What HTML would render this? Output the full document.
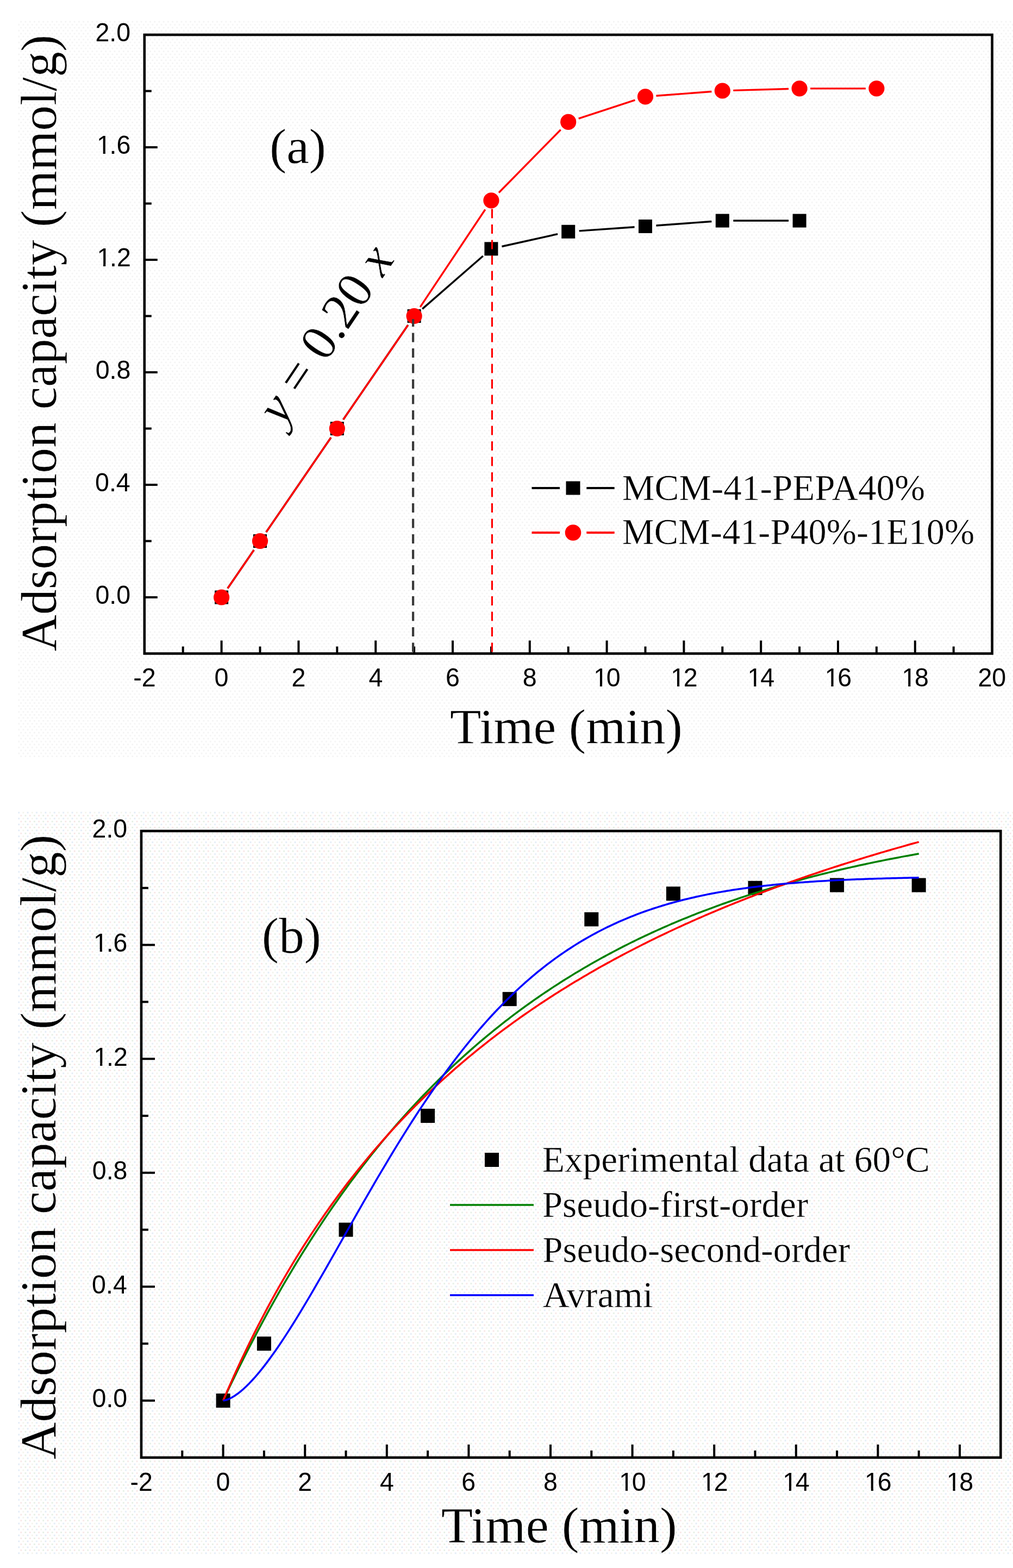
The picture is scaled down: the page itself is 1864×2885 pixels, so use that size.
<!DOCTYPE html>
<html><head><meta charset="utf-8"><title>Adsorption kinetics</title>
<style>html,body{margin:0;padding:0;background:#fff;}svg{display:block;}</style></head>
<body><svg width="1864" height="2885" viewBox="0 0 1864 2885">
<rect width="1864" height="2885" fill="#fff"/>
<defs><pattern id="dotsA" x="0" y="0" width="8.2" height="10.9" patternUnits="userSpaceOnUse"><rect x="0.5" y="0.5" width="2.8" height="2.8" fill="#f3f3f3"/><rect x="4.6" y="5.95" width="2.8" height="2.8" fill="#f3f3f3"/></pattern><pattern id="dotsB" x="0" y="0" width="16.4" height="10.9" patternUnits="userSpaceOnUse"><rect x="0.5" y="0.5" width="2.8" height="2.8" fill="#dfe9f5"/><rect x="4.6" y="5.95" width="2.8" height="2.8" fill="#f7e4e4"/><rect x="8.7" y="0.5" width="2.8" height="2.8" fill="#f2f2ea"/><rect x="12.8" y="5.95" width="2.8" height="2.8" fill="#e3eee3"/></pattern></defs>
<rect x="33" y="38" width="1831" height="1355" fill="url(#dotsA)"/>
<rect x="33" y="1493" width="1831" height="1368" fill="url(#dotsB)"/>
<rect x="265.80" y="64.00" width="1559.80" height="1138.50" fill="none" stroke="#000" stroke-width="4.6"/>
<line x1="265.80" y1="1099.00" x2="289.80" y2="1099.00" stroke="#000" stroke-width="4" />
<line x1="265.80" y1="995.50" x2="278.80" y2="995.50" stroke="#000" stroke-width="4" />
<line x1="265.80" y1="892.00" x2="289.80" y2="892.00" stroke="#000" stroke-width="4" />
<line x1="265.80" y1="788.50" x2="278.80" y2="788.50" stroke="#000" stroke-width="4" />
<line x1="265.80" y1="685.00" x2="289.80" y2="685.00" stroke="#000" stroke-width="4" />
<line x1="265.80" y1="581.50" x2="278.80" y2="581.50" stroke="#000" stroke-width="4" />
<line x1="265.80" y1="478.00" x2="289.80" y2="478.00" stroke="#000" stroke-width="4" />
<line x1="265.80" y1="374.50" x2="278.80" y2="374.50" stroke="#000" stroke-width="4" />
<line x1="265.80" y1="271.00" x2="289.80" y2="271.00" stroke="#000" stroke-width="4" />
<line x1="265.80" y1="167.50" x2="278.80" y2="167.50" stroke="#000" stroke-width="4" />
<line x1="336.70" y1="1202.50" x2="336.70" y2="1189.50" stroke="#000" stroke-width="4" />
<line x1="407.60" y1="1202.50" x2="407.60" y2="1178.50" stroke="#000" stroke-width="4" />
<line x1="478.50" y1="1202.50" x2="478.50" y2="1189.50" stroke="#000" stroke-width="4" />
<line x1="549.40" y1="1202.50" x2="549.40" y2="1178.50" stroke="#000" stroke-width="4" />
<line x1="620.30" y1="1202.50" x2="620.30" y2="1189.50" stroke="#000" stroke-width="4" />
<line x1="691.20" y1="1202.50" x2="691.20" y2="1178.50" stroke="#000" stroke-width="4" />
<line x1="762.10" y1="1202.50" x2="762.10" y2="1189.50" stroke="#000" stroke-width="4" />
<line x1="833.00" y1="1202.50" x2="833.00" y2="1178.50" stroke="#000" stroke-width="4" />
<line x1="903.90" y1="1202.50" x2="903.90" y2="1189.50" stroke="#000" stroke-width="4" />
<line x1="974.80" y1="1202.50" x2="974.80" y2="1178.50" stroke="#000" stroke-width="4" />
<line x1="1045.70" y1="1202.50" x2="1045.70" y2="1189.50" stroke="#000" stroke-width="4" />
<line x1="1116.60" y1="1202.50" x2="1116.60" y2="1178.50" stroke="#000" stroke-width="4" />
<line x1="1187.50" y1="1202.50" x2="1187.50" y2="1189.50" stroke="#000" stroke-width="4" />
<line x1="1258.40" y1="1202.50" x2="1258.40" y2="1178.50" stroke="#000" stroke-width="4" />
<line x1="1329.30" y1="1202.50" x2="1329.30" y2="1189.50" stroke="#000" stroke-width="4" />
<line x1="1400.20" y1="1202.50" x2="1400.20" y2="1178.50" stroke="#000" stroke-width="4" />
<line x1="1471.10" y1="1202.50" x2="1471.10" y2="1189.50" stroke="#000" stroke-width="4" />
<line x1="1542.00" y1="1202.50" x2="1542.00" y2="1178.50" stroke="#000" stroke-width="4" />
<line x1="1612.90" y1="1202.50" x2="1612.90" y2="1189.50" stroke="#000" stroke-width="4" />
<line x1="1683.80" y1="1202.50" x2="1683.80" y2="1178.50" stroke="#000" stroke-width="4" />
<line x1="1754.70" y1="1202.50" x2="1754.70" y2="1189.50" stroke="#000" stroke-width="4" />
<g transform="translate(175.47,1111.40) scale(0.9750,1)"><text x="0.00 26.58 39.86" font-family="&quot;Liberation Sans&quot;, sans-serif" font-size="47.80" fill="#000">0.0</text></g>
<g transform="translate(175.00,904.40) scale(0.9750,1)"><text x="0.00 26.58 39.86" font-family="&quot;Liberation Sans&quot;, sans-serif" font-size="47.80" fill="#000">0.4</text></g>
<g transform="translate(175.70,697.40) scale(0.9750,1)"><text x="0.00 26.58 39.86" font-family="&quot;Liberation Sans&quot;, sans-serif" font-size="47.80" fill="#000">0.8</text></g>
<g transform="translate(176.05,490.40) scale(0.9750,1)"><text x="2.39 26.58 39.86" font-family="&quot;Liberation Sans&quot;, sans-serif" font-size="47.80" fill="#000">1.2</text><rect x="4.72" y="-4.33" width="9.66" height="5.33" fill="#fdfdfd"/><rect x="18.66" y="-4.33" width="9.41" height="5.33" fill="#fdfdfd"/></g>
<g transform="translate(175.70,283.40) scale(0.9750,1)"><text x="2.39 26.58 39.86" font-family="&quot;Liberation Sans&quot;, sans-serif" font-size="47.80" fill="#000">1.6</text><rect x="4.72" y="-4.33" width="9.66" height="5.33" fill="#fdfdfd"/><rect x="18.66" y="-4.33" width="9.41" height="5.33" fill="#fdfdfd"/></g>
<g transform="translate(175.47,76.40) scale(0.9750,1)"><text x="0.00 26.58 39.86" font-family="&quot;Liberation Sans&quot;, sans-serif" font-size="47.80" fill="#000">2.0</text></g>
<g transform="translate(245.24,1263.30) scale(0.9750,1)"><text x="0.00 15.92" font-family="&quot;Liberation Sans&quot;, sans-serif" font-size="47.80" fill="#000">-2</text></g>
<g transform="translate(394.61,1263.30) scale(0.9750,1)"><text x="0.00" font-family="&quot;Liberation Sans&quot;, sans-serif" font-size="47.80" fill="#000">0</text></g>
<g transform="translate(536.47,1263.30) scale(0.9750,1)"><text x="0.00" font-family="&quot;Liberation Sans&quot;, sans-serif" font-size="47.80" fill="#000">2</text></g>
<g transform="translate(678.38,1263.30) scale(0.9750,1)"><text x="0.00" font-family="&quot;Liberation Sans&quot;, sans-serif" font-size="47.80" fill="#000">4</text></g>
<g transform="translate(819.89,1263.30) scale(0.9750,1)"><text x="0.00" font-family="&quot;Liberation Sans&quot;, sans-serif" font-size="47.80" fill="#000">6</text></g>
<g transform="translate(961.87,1263.30) scale(0.9750,1)"><text x="0.00" font-family="&quot;Liberation Sans&quot;, sans-serif" font-size="47.80" fill="#000">8</text></g>
<g transform="translate(1089.86,1263.30) scale(0.9750,1)"><text x="2.39 26.58" font-family="&quot;Liberation Sans&quot;, sans-serif" font-size="47.80" fill="#000">10</text><rect x="4.72" y="-4.33" width="9.66" height="5.33" fill="#fdfdfd"/><rect x="18.66" y="-4.33" width="9.41" height="5.33" fill="#fdfdfd"/></g>
<g transform="translate(1231.95,1263.30) scale(0.9750,1)"><text x="2.39 26.58" font-family="&quot;Liberation Sans&quot;, sans-serif" font-size="47.80" fill="#000">12</text><rect x="4.72" y="-4.33" width="9.66" height="5.33" fill="#fdfdfd"/><rect x="18.66" y="-4.33" width="9.41" height="5.33" fill="#fdfdfd"/></g>
<g transform="translate(1373.23,1263.30) scale(0.9750,1)"><text x="2.39 26.58" font-family="&quot;Liberation Sans&quot;, sans-serif" font-size="47.80" fill="#000">14</text><rect x="4.72" y="-4.33" width="9.66" height="5.33" fill="#fdfdfd"/><rect x="18.66" y="-4.33" width="9.41" height="5.33" fill="#fdfdfd"/></g>
<g transform="translate(1515.38,1263.30) scale(0.9750,1)"><text x="2.39 26.58" font-family="&quot;Liberation Sans&quot;, sans-serif" font-size="47.80" fill="#000">16</text><rect x="4.72" y="-4.33" width="9.66" height="5.33" fill="#fdfdfd"/><rect x="18.66" y="-4.33" width="9.41" height="5.33" fill="#fdfdfd"/></g>
<g transform="translate(1657.18,1263.30) scale(0.9750,1)"><text x="2.39 26.58" font-family="&quot;Liberation Sans&quot;, sans-serif" font-size="47.80" fill="#000">18</text><rect x="4.72" y="-4.33" width="9.66" height="5.33" fill="#fdfdfd"/><rect x="18.66" y="-4.33" width="9.41" height="5.33" fill="#fdfdfd"/></g>
<g transform="translate(1799.44,1263.30) scale(0.9750,1)"><text x="0.00 26.58" font-family="&quot;Liberation Sans&quot;, sans-serif" font-size="47.80" fill="#000">20</text></g>
<text transform="translate(827.95,1368.46) scale(1.0342,1)" font-family="&quot;Liberation Serif&quot;, serif" font-size="91.02" text-anchor="start" fill="#000" stroke="#fdfdfd" stroke-width="0.5">Time (min)</text>
<text transform="translate(103.15,1198.84) rotate(-90) scale(0.9955,1)" font-family="&quot;Liberation Serif&quot;, serif" font-size="94.18" text-anchor="start" fill="#000" stroke="#fdfdfd" stroke-width="0.5">Adsorption capacity (mmol/g)</text>
<text transform="translate(496.02,300.19) scale(1.0203,1)" font-family="&quot;Liberation Serif&quot;, serif" font-size="91.79" text-anchor="start" fill="#000" stroke="#fdfdfd" stroke-width="0.5">(a)</text>
<line x1="418.90" y1="1082.50" x2="467.20" y2="1012.00" stroke="#000" stroke-width="3.4" />
<line x1="489.80" y1="979.00" x2="609.00" y2="805.00" stroke="#000" stroke-width="3.4" />
<line x1="631.60" y1="772.00" x2="750.80" y2="598.00" stroke="#000" stroke-width="3.4" />
<line x1="777.17" y1="568.35" x2="888.83" y2="470.96" stroke="#000" stroke-width="3.4" />
<line x1="923.42" y1="453.47" x2="1026.18" y2="430.60" stroke="#000" stroke-width="3.4" />
<line x1="1065.65" y1="424.87" x2="1167.55" y2="417.80" stroke="#000" stroke-width="3.4" />
<line x1="1207.45" y1="414.96" x2="1309.35" y2="407.52" stroke="#000" stroke-width="3.4" />
<line x1="1349.30" y1="406.07" x2="1451.10" y2="406.07" stroke="#000" stroke-width="3.4" />
<line x1="418.90" y1="1082.50" x2="467.20" y2="1012.00" stroke="#ff0000" stroke-width="3.4" />
<line x1="489.80" y1="979.00" x2="609.00" y2="805.00" stroke="#ff0000" stroke-width="3.4" />
<line x1="631.60" y1="772.00" x2="750.80" y2="598.00" stroke="#ff0000" stroke-width="3.4" />
<line x1="773.19" y1="564.86" x2="892.81" y2="385.45" stroke="#ff0000" stroke-width="3.4" />
<line x1="917.91" y1="354.54" x2="1031.69" y2="238.69" stroke="#ff0000" stroke-width="3.4" />
<line x1="1064.70" y1="218.18" x2="1168.50" y2="184.09" stroke="#ff0000" stroke-width="3.4" />
<line x1="1207.44" y1="176.32" x2="1309.36" y2="168.51" stroke="#ff0000" stroke-width="3.4" />
<line x1="1349.29" y1="166.40" x2="1451.11" y2="163.43" stroke="#ff0000" stroke-width="3.4" />
<line x1="1491.10" y1="162.84" x2="1592.90" y2="162.84" stroke="#ff0000" stroke-width="3.4" />
<rect x="395.10" y="1086.50" width="25" height="25" fill="#000"/>
<rect x="466.00" y="983.00" width="25" height="25" fill="#000"/>
<rect x="607.80" y="776.00" width="25" height="25" fill="#000"/>
<rect x="749.60" y="569.00" width="25" height="25" fill="#000"/>
<rect x="891.40" y="445.32" width="25" height="25" fill="#000"/>
<rect x="1033.20" y="413.75" width="25" height="25" fill="#000"/>
<rect x="1175.00" y="403.92" width="25" height="25" fill="#000"/>
<rect x="1316.80" y="393.57" width="25" height="25" fill="#000"/>
<rect x="1458.60" y="393.57" width="25" height="25" fill="#000"/>
<line x1="905.40" y1="368.81" x2="905.40" y2="1201.00" stroke="#ff0000" stroke-width="3.2" stroke-dasharray="17.0 11.5" stroke-dashoffset="12.71"/>
<circle cx="407.60" cy="1099.00" r="14.6" fill="#ff0000"/>
<circle cx="478.50" cy="995.50" r="14.6" fill="#ff0000"/>
<circle cx="620.30" cy="788.50" r="14.6" fill="#ff0000"/>
<circle cx="762.10" cy="581.50" r="14.6" fill="#ff0000"/>
<circle cx="903.90" cy="368.81" r="14.6" fill="#ff0000"/>
<circle cx="1045.70" cy="224.43" r="14.6" fill="#ff0000"/>
<circle cx="1187.50" cy="177.85" r="14.6" fill="#ff0000"/>
<circle cx="1329.30" cy="166.98" r="14.6" fill="#ff0000"/>
<circle cx="1471.10" cy="162.84" r="14.6" fill="#ff0000"/>
<circle cx="1612.90" cy="162.84" r="14.6" fill="#ff0000"/>
<line x1="760.10" y1="587.00" x2="760.10" y2="1201.00" stroke="#3a3a3a" stroke-width="4.2" stroke-dasharray="17.0 11.5" stroke-dashoffset="2.90"/>
<text transform="translate(520.49,785.52) rotate(-56.1)" font-family="&quot;Liberation Serif&quot;, serif" font-size="94.0" fill="#000" stroke="#fdfdfd" stroke-width="0.5" xml:space="preserve"><tspan font-style="italic">y</tspan> = 0.20 <tspan font-style="italic">x</tspan></text>
<line x1="978.50" y1="898.00" x2="1030.00" y2="898.00" stroke="#000" stroke-width="3.8" />
<line x1="1079.30" y1="898.00" x2="1130.70" y2="898.00" stroke="#000" stroke-width="3.8" />
<rect x="1041.5" y="885.50" width="26" height="25" fill="#000"/>
<line x1="978.50" y1="980.00" x2="1030.00" y2="980.00" stroke="#ff0000" stroke-width="3.8" />
<line x1="1079.30" y1="980.00" x2="1130.70" y2="980.00" stroke="#ff0000" stroke-width="3.8" />
<circle cx="1054.5" cy="980.0" r="14.8" fill="#ff0000"/>
<text transform="translate(1144.75,919.60) scale(0.9809,1)" font-family="&quot;Liberation Serif&quot;, serif" font-size="68.50" text-anchor="start" fill="#000" stroke="#fdfdfd" stroke-width="0.5">MCM-41-PEPA40%</text>
<text transform="translate(1144.78,1001.30) scale(0.9685,1)" font-family="&quot;Liberation Serif&quot;, serif" font-size="68.50" text-anchor="start" fill="#000" stroke="#fdfdfd" stroke-width="0.5">MCM-41-P40%-1E10%</text>
<rect x="260.00" y="1529.00" width="1581.30" height="1152.80" fill="none" stroke="#000" stroke-width="4.6"/>
<line x1="260.00" y1="2577.00" x2="285.00" y2="2577.00" stroke="#000" stroke-width="4" />
<line x1="260.00" y1="2472.20" x2="273.00" y2="2472.20" stroke="#000" stroke-width="4" />
<line x1="260.00" y1="2367.40" x2="285.00" y2="2367.40" stroke="#000" stroke-width="4" />
<line x1="260.00" y1="2262.60" x2="273.00" y2="2262.60" stroke="#000" stroke-width="4" />
<line x1="260.00" y1="2157.80" x2="285.00" y2="2157.80" stroke="#000" stroke-width="4" />
<line x1="260.00" y1="2053.00" x2="273.00" y2="2053.00" stroke="#000" stroke-width="4" />
<line x1="260.00" y1="1948.20" x2="285.00" y2="1948.20" stroke="#000" stroke-width="4" />
<line x1="260.00" y1="1843.40" x2="273.00" y2="1843.40" stroke="#000" stroke-width="4" />
<line x1="260.00" y1="1738.60" x2="285.00" y2="1738.60" stroke="#000" stroke-width="4" />
<line x1="260.00" y1="1633.80" x2="273.00" y2="1633.80" stroke="#000" stroke-width="4" />
<line x1="335.30" y1="2681.80" x2="335.30" y2="2668.80" stroke="#000" stroke-width="4" />
<line x1="410.60" y1="2681.80" x2="410.60" y2="2657.80" stroke="#000" stroke-width="4" />
<line x1="485.90" y1="2681.80" x2="485.90" y2="2668.80" stroke="#000" stroke-width="4" />
<line x1="561.20" y1="2681.80" x2="561.20" y2="2657.80" stroke="#000" stroke-width="4" />
<line x1="636.50" y1="2681.80" x2="636.50" y2="2668.80" stroke="#000" stroke-width="4" />
<line x1="711.80" y1="2681.80" x2="711.80" y2="2657.80" stroke="#000" stroke-width="4" />
<line x1="787.10" y1="2681.80" x2="787.10" y2="2668.80" stroke="#000" stroke-width="4" />
<line x1="862.40" y1="2681.80" x2="862.40" y2="2657.80" stroke="#000" stroke-width="4" />
<line x1="937.70" y1="2681.80" x2="937.70" y2="2668.80" stroke="#000" stroke-width="4" />
<line x1="1013.00" y1="2681.80" x2="1013.00" y2="2657.80" stroke="#000" stroke-width="4" />
<line x1="1088.30" y1="2681.80" x2="1088.30" y2="2668.80" stroke="#000" stroke-width="4" />
<line x1="1163.60" y1="2681.80" x2="1163.60" y2="2657.80" stroke="#000" stroke-width="4" />
<line x1="1238.90" y1="2681.80" x2="1238.90" y2="2668.80" stroke="#000" stroke-width="4" />
<line x1="1314.20" y1="2681.80" x2="1314.20" y2="2657.80" stroke="#000" stroke-width="4" />
<line x1="1389.50" y1="2681.80" x2="1389.50" y2="2668.80" stroke="#000" stroke-width="4" />
<line x1="1464.80" y1="2681.80" x2="1464.80" y2="2657.80" stroke="#000" stroke-width="4" />
<line x1="1540.10" y1="2681.80" x2="1540.10" y2="2668.80" stroke="#000" stroke-width="4" />
<line x1="1615.40" y1="2681.80" x2="1615.40" y2="2657.80" stroke="#000" stroke-width="4" />
<line x1="1690.70" y1="2681.80" x2="1690.70" y2="2668.80" stroke="#000" stroke-width="4" />
<line x1="1766.00" y1="2681.80" x2="1766.00" y2="2657.80" stroke="#000" stroke-width="4" />
<g transform="translate(169.54,2589.30) scale(0.9500,1)"><text x="0.00 27.25 40.87" font-family="&quot;Liberation Sans&quot;, sans-serif" font-size="49.00" fill="#000">0.0</text></g>
<g transform="translate(169.08,2379.70) scale(0.9500,1)"><text x="0.00 27.25 40.87" font-family="&quot;Liberation Sans&quot;, sans-serif" font-size="49.00" fill="#000">0.4</text></g>
<g transform="translate(169.77,2170.10) scale(0.9500,1)"><text x="0.00 27.25 40.87" font-family="&quot;Liberation Sans&quot;, sans-serif" font-size="49.00" fill="#000">0.8</text></g>
<g transform="translate(170.12,1960.50) scale(0.9500,1)"><text x="2.45 27.25 40.87" font-family="&quot;Liberation Sans&quot;, sans-serif" font-size="49.00" fill="#000">1.2</text><rect x="4.84" y="-4.43" width="9.91" height="5.43" fill="#fdfdfd"/><rect x="19.13" y="-4.43" width="9.64" height="5.43" fill="#fdfdfd"/></g>
<g transform="translate(169.77,1750.90) scale(0.9500,1)"><text x="2.45 27.25 40.87" font-family="&quot;Liberation Sans&quot;, sans-serif" font-size="49.00" fill="#000">1.6</text><rect x="4.84" y="-4.43" width="9.91" height="5.43" fill="#fdfdfd"/><rect x="19.13" y="-4.43" width="9.64" height="5.43" fill="#fdfdfd"/></g>
<g transform="translate(169.54,1541.30) scale(0.9500,1)"><text x="0.00 27.25 40.87" font-family="&quot;Liberation Sans&quot;, sans-serif" font-size="49.00" fill="#000">2.0</text></g>
<g transform="translate(239.46,2743.20) scale(0.9500,1)"><text x="0.00 16.32" font-family="&quot;Liberation Sans&quot;, sans-serif" font-size="49.00" fill="#000">-2</text></g>
<g transform="translate(397.62,2743.20) scale(0.9500,1)"><text x="0.00" font-family="&quot;Liberation Sans&quot;, sans-serif" font-size="49.00" fill="#000">0</text></g>
<g transform="translate(548.28,2743.20) scale(0.9500,1)"><text x="0.00" font-family="&quot;Liberation Sans&quot;, sans-serif" font-size="49.00" fill="#000">2</text></g>
<g transform="translate(699.00,2743.20) scale(0.9500,1)"><text x="0.00" font-family="&quot;Liberation Sans&quot;, sans-serif" font-size="49.00" fill="#000">4</text></g>
<g transform="translate(849.31,2743.20) scale(0.9500,1)"><text x="0.00" font-family="&quot;Liberation Sans&quot;, sans-serif" font-size="49.00" fill="#000">6</text></g>
<g transform="translate(1000.08,2743.20) scale(0.9500,1)"><text x="0.00" font-family="&quot;Liberation Sans&quot;, sans-serif" font-size="49.00" fill="#000">8</text></g>
<g transform="translate(1136.89,2743.20) scale(0.9500,1)"><text x="2.45 27.25" font-family="&quot;Liberation Sans&quot;, sans-serif" font-size="49.00" fill="#000">10</text><rect x="4.84" y="-4.43" width="9.91" height="5.43" fill="#fdfdfd"/><rect x="19.13" y="-4.43" width="9.64" height="5.43" fill="#fdfdfd"/></g>
<g transform="translate(1287.78,2743.20) scale(0.9500,1)"><text x="2.45 27.25" font-family="&quot;Liberation Sans&quot;, sans-serif" font-size="49.00" fill="#000">12</text><rect x="4.84" y="-4.43" width="9.91" height="5.43" fill="#fdfdfd"/><rect x="19.13" y="-4.43" width="9.64" height="5.43" fill="#fdfdfd"/></g>
<g transform="translate(1437.86,2743.20) scale(0.9500,1)"><text x="2.45 27.25" font-family="&quot;Liberation Sans&quot;, sans-serif" font-size="49.00" fill="#000">14</text><rect x="4.84" y="-4.43" width="9.91" height="5.43" fill="#fdfdfd"/><rect x="19.13" y="-4.43" width="9.64" height="5.43" fill="#fdfdfd"/></g>
<g transform="translate(1588.81,2743.20) scale(0.9500,1)"><text x="2.45 27.25" font-family="&quot;Liberation Sans&quot;, sans-serif" font-size="49.00" fill="#000">16</text><rect x="4.84" y="-4.43" width="9.91" height="5.43" fill="#fdfdfd"/><rect x="19.13" y="-4.43" width="9.64" height="5.43" fill="#fdfdfd"/></g>
<g transform="translate(1739.41,2743.20) scale(0.9500,1)"><text x="2.45 27.25" font-family="&quot;Liberation Sans&quot;, sans-serif" font-size="49.00" fill="#000">18</text><rect x="4.84" y="-4.43" width="9.91" height="5.43" fill="#fdfdfd"/><rect x="19.13" y="-4.43" width="9.64" height="5.43" fill="#fdfdfd"/></g>
<text transform="translate(811.73,2837.81) scale(1.0306,1)" font-family="&quot;Liberation Serif&quot;, serif" font-size="92.67" text-anchor="start" fill="#000" stroke="#fdfdfd" stroke-width="0.5">Time (min)</text>
<text transform="translate(101.78,2685.35) rotate(-90) scale(1.0095,1)" font-family="&quot;Liberation Serif&quot;, serif" font-size="94.07" text-anchor="start" fill="#000" stroke="#fdfdfd" stroke-width="0.5">Adsorption capacity (mmol/g)</text>
<text transform="translate(481.71,1753.32) scale(1.0182,1)" font-family="&quot;Liberation Serif&quot;, serif" font-size="92.12" text-anchor="start" fill="#000" stroke="#fdfdfd" stroke-width="0.5">(b)</text>
<rect x="397.60" y="2564.00" width="26" height="26" fill="#000"/>
<rect x="472.90" y="2459.20" width="26" height="26" fill="#000"/>
<rect x="623.50" y="2249.60" width="26" height="26" fill="#000"/>
<rect x="774.10" y="2040.00" width="26" height="26" fill="#000"/>
<rect x="924.70" y="1825.16" width="26" height="26" fill="#000"/>
<rect x="1075.30" y="1678.44" width="26" height="26" fill="#000"/>
<rect x="1225.90" y="1631.28" width="26" height="26" fill="#000"/>
<rect x="1376.50" y="1620.80" width="26" height="26" fill="#000"/>
<rect x="1527.10" y="1615.56" width="26" height="26" fill="#000"/>
<rect x="1677.70" y="1615.56" width="26" height="26" fill="#000"/>
<polyline points="410.60,2577.00 415.96,2565.62 421.31,2554.36 426.67,2543.21 432.02,2532.18 437.38,2521.26 442.74,2510.46 448.09,2499.77 453.45,2489.19 458.80,2478.72 464.16,2468.36 469.52,2458.11 474.87,2447.96 480.23,2437.92 485.58,2427.98 490.94,2418.15 496.30,2408.41 501.65,2398.78 507.01,2389.25 512.37,2379.82 517.72,2370.48 523.08,2361.24 528.43,2352.10 533.79,2343.05 539.15,2334.10 544.50,2325.24 549.86,2316.47 555.21,2307.79 560.57,2299.21 565.93,2290.71 571.28,2282.30 576.64,2273.97 581.99,2265.74 587.35,2257.59 592.71,2249.52 598.06,2241.54 603.42,2233.64 608.77,2225.82 614.13,2218.08 619.49,2210.42 624.84,2202.85 630.20,2195.35 635.55,2187.93 640.91,2180.58 646.27,2173.31 651.62,2166.12 656.98,2159.00 662.34,2151.96 667.69,2144.99 673.05,2138.09 678.40,2131.26 683.76,2124.51 689.12,2117.82 694.47,2111.20 699.83,2104.66 705.18,2098.18 710.54,2091.76 715.90,2085.42 721.25,2079.14 726.61,2072.92 731.96,2066.77 737.32,2060.68 742.68,2054.66 748.03,2048.70 753.39,2042.80 758.74,2036.96 764.10,2031.18 769.46,2025.46 774.81,2019.81 780.17,2014.21 785.52,2008.67 790.88,2003.18 796.24,1997.75 801.59,1992.38 806.95,1987.07 812.31,1981.81 817.66,1976.60 823.02,1971.45 828.37,1966.35 833.73,1961.31 839.09,1956.31 844.44,1951.37 849.80,1946.48 855.15,1941.64 860.51,1936.86 865.87,1932.12 871.22,1927.43 876.58,1922.79 881.93,1918.19 887.29,1913.65 892.65,1909.15 898.00,1904.70 903.36,1900.29 908.71,1895.93 914.07,1891.62 919.43,1887.35 924.78,1883.12 930.14,1878.94 935.49,1874.80 940.85,1870.71 946.21,1866.65 951.56,1862.64 956.92,1858.67 962.27,1854.75 967.63,1850.86 972.99,1847.01 978.34,1843.21 983.70,1839.44 989.06,1835.71 994.41,1832.02 999.77,1828.37 1005.12,1824.76 1010.48,1821.18 1015.84,1817.64 1021.19,1814.14 1026.55,1810.67 1031.90,1807.24 1037.26,1803.85 1042.62,1800.49 1047.97,1797.16 1053.33,1793.87 1058.68,1790.62 1064.04,1787.40 1069.40,1784.21 1074.75,1781.05 1080.11,1777.93 1085.46,1774.84 1090.82,1771.78 1096.18,1768.76 1101.53,1765.76 1106.89,1762.80 1112.24,1759.86 1117.60,1756.96 1122.96,1754.09 1128.31,1751.25 1133.67,1748.43 1139.03,1745.65 1144.38,1742.89 1149.74,1740.17 1155.09,1737.47 1160.45,1734.80 1165.81,1732.16 1171.16,1729.54 1176.52,1726.95 1181.87,1724.39 1187.23,1721.86 1192.59,1719.35 1197.94,1716.87 1203.30,1714.41 1208.65,1711.98 1214.01,1709.57 1219.37,1707.19 1224.72,1704.83 1230.08,1702.50 1235.43,1700.19 1240.79,1697.91 1246.15,1695.65 1251.50,1693.41 1256.86,1691.20 1262.21,1689.01 1267.57,1686.84 1272.93,1684.70 1278.28,1682.58 1283.64,1680.47 1288.99,1678.40 1294.35,1676.34 1299.71,1674.30 1305.06,1672.29 1310.42,1670.29 1315.78,1668.32 1321.13,1666.37 1326.49,1664.43 1331.84,1662.52 1337.20,1660.63 1342.56,1658.76 1347.91,1656.90 1353.27,1655.07 1358.62,1653.25 1363.98,1651.45 1369.34,1649.68 1374.69,1647.92 1380.05,1646.18 1385.40,1644.45 1390.76,1642.75 1396.12,1641.06 1401.47,1639.39 1406.83,1637.74 1412.18,1636.10 1417.54,1634.48 1422.90,1632.88 1428.25,1631.30 1433.61,1629.73 1438.96,1628.17 1444.32,1626.64 1449.68,1625.12 1455.03,1623.61 1460.39,1622.12 1465.75,1620.65 1471.10,1619.19 1476.46,1617.75 1481.81,1616.32 1487.17,1614.91 1492.53,1613.51 1497.88,1612.12 1503.24,1610.75 1508.59,1609.40 1513.95,1608.06 1519.31,1606.73 1524.66,1605.41 1530.02,1604.11 1535.37,1602.83 1540.73,1601.55 1546.09,1600.29 1551.44,1599.05 1556.80,1597.81 1562.15,1596.59 1567.51,1595.38 1572.87,1594.19 1578.22,1593.00 1583.58,1591.83 1588.93,1590.67 1594.29,1589.52 1599.65,1588.39 1605.00,1587.27 1610.36,1586.15 1615.72,1585.05 1621.07,1583.96 1626.43,1582.89 1631.78,1581.82 1637.14,1580.76 1642.50,1579.72 1647.85,1578.69 1653.21,1577.66 1658.56,1576.65 1663.92,1575.65 1669.28,1574.66 1674.63,1573.68 1679.99,1572.71 1685.34,1571.74 1690.70,1570.79" fill="none" stroke="#008000" stroke-width="3.5" stroke-linejoin="round"/>
<polyline points="410.60,2577.00 415.96,2564.52 421.31,2552.24 426.67,2540.15 432.02,2528.24 437.38,2516.53 442.74,2504.99 448.09,2493.63 453.45,2482.44 458.80,2471.42 464.16,2460.56 469.52,2449.87 474.87,2439.33 480.23,2428.94 485.58,2418.71 490.94,2408.62 496.30,2398.68 501.65,2388.88 507.01,2379.21 512.37,2369.68 517.72,2360.29 523.08,2351.02 528.43,2341.88 533.79,2332.86 539.15,2323.96 544.50,2315.19 549.86,2306.53 555.21,2297.99 560.57,2289.55 565.93,2281.23 571.28,2273.02 576.64,2264.91 581.99,2256.91 587.35,2249.00 592.71,2241.20 598.06,2233.50 603.42,2225.89 608.77,2218.38 614.13,2210.96 619.49,2203.63 624.84,2196.39 630.20,2189.23 635.55,2182.17 640.91,2175.18 646.27,2168.28 651.62,2161.47 656.98,2154.73 662.34,2148.07 667.69,2141.49 673.05,2134.99 678.40,2128.55 683.76,2122.20 689.12,2115.91 694.47,2109.70 699.83,2103.55 705.18,2097.48 710.54,2091.47 715.90,2085.53 721.25,2079.65 726.61,2073.84 731.96,2068.09 737.32,2062.40 742.68,2056.78 748.03,2051.21 753.39,2045.71 758.74,2040.26 764.10,2034.87 769.46,2029.53 774.81,2024.25 780.17,2019.03 785.52,2013.86 790.88,2008.74 796.24,2003.67 801.59,1998.66 806.95,1993.70 812.31,1988.78 817.66,1983.92 823.02,1979.10 828.37,1974.33 833.73,1969.61 839.09,1964.94 844.44,1960.31 849.80,1955.72 855.15,1951.18 860.51,1946.68 865.87,1942.23 871.22,1937.82 876.58,1933.45 881.93,1929.12 887.29,1924.83 892.65,1920.59 898.00,1916.38 903.36,1912.21 908.71,1908.08 914.07,1903.98 919.43,1899.93 924.78,1895.91 930.14,1891.93 935.49,1887.98 940.85,1884.07 946.21,1880.19 951.56,1876.35 956.92,1872.54 962.27,1868.77 967.63,1865.03 972.99,1861.32 978.34,1857.64 983.70,1854.00 989.06,1850.38 994.41,1846.80 999.77,1843.25 1005.12,1839.73 1010.48,1836.24 1015.84,1832.77 1021.19,1829.34 1026.55,1825.94 1031.90,1822.56 1037.26,1819.21 1042.62,1815.89 1047.97,1812.60 1053.33,1809.33 1058.68,1806.09 1064.04,1802.88 1069.40,1799.69 1074.75,1796.53 1080.11,1793.40 1085.46,1790.28 1090.82,1787.20 1096.18,1784.14 1101.53,1781.10 1106.89,1778.09 1112.24,1775.10 1117.60,1772.13 1122.96,1769.19 1128.31,1766.26 1133.67,1763.37 1139.03,1760.49 1144.38,1757.64 1149.74,1754.80 1155.09,1751.99 1160.45,1749.20 1165.81,1746.44 1171.16,1743.69 1176.52,1740.96 1181.87,1738.25 1187.23,1735.57 1192.59,1732.90 1197.94,1730.25 1203.30,1727.63 1208.65,1725.02 1214.01,1722.43 1219.37,1719.86 1224.72,1717.31 1230.08,1714.77 1235.43,1712.26 1240.79,1709.76 1246.15,1707.28 1251.50,1704.82 1256.86,1702.38 1262.21,1699.95 1267.57,1697.54 1272.93,1695.15 1278.28,1692.77 1283.64,1690.41 1288.99,1688.07 1294.35,1685.74 1299.71,1683.43 1305.06,1681.14 1310.42,1678.86 1315.78,1676.59 1321.13,1674.34 1326.49,1672.11 1331.84,1669.89 1337.20,1667.69 1342.56,1665.50 1347.91,1663.33 1353.27,1661.17 1358.62,1659.02 1363.98,1656.89 1369.34,1654.77 1374.69,1652.67 1380.05,1650.58 1385.40,1648.51 1390.76,1646.45 1396.12,1644.40 1401.47,1642.36 1406.83,1640.34 1412.18,1638.33 1417.54,1636.33 1422.90,1634.35 1428.25,1632.38 1433.61,1630.42 1438.96,1628.48 1444.32,1626.54 1449.68,1624.62 1455.03,1622.71 1460.39,1620.81 1465.75,1618.93 1471.10,1617.05 1476.46,1615.19 1481.81,1613.34 1487.17,1611.50 1492.53,1609.67 1497.88,1607.86 1503.24,1606.05 1508.59,1604.25 1513.95,1602.47 1519.31,1600.70 1524.66,1598.93 1530.02,1597.18 1535.37,1595.44 1540.73,1593.71 1546.09,1591.99 1551.44,1590.28 1556.80,1588.58 1562.15,1586.89 1567.51,1585.21 1572.87,1583.53 1578.22,1581.87 1583.58,1580.22 1588.93,1578.58 1594.29,1576.95 1599.65,1575.33 1605.00,1573.71 1610.36,1572.11 1615.72,1570.51 1621.07,1568.93 1626.43,1567.35 1631.78,1565.78 1637.14,1564.22 1642.50,1562.67 1647.85,1561.13 1653.21,1559.60 1658.56,1558.07 1663.92,1556.56 1669.28,1555.05 1674.63,1553.55 1679.99,1552.06 1685.34,1550.58 1690.70,1549.11" fill="none" stroke="#ff0000" stroke-width="3.5" stroke-linejoin="round"/>
<polyline points="410.60,2577.00 415.96,2575.99 421.31,2573.99 426.67,2571.30 432.02,2568.04 437.38,2564.28 442.74,2560.08 448.09,2555.47 453.45,2550.48 458.80,2545.15 464.16,2539.50 469.52,2533.55 474.87,2527.31 480.23,2520.82 485.58,2514.07 490.94,2507.10 496.30,2499.91 501.65,2492.51 507.01,2484.92 512.37,2477.16 517.72,2469.22 523.08,2461.13 528.43,2452.89 533.79,2444.51 539.15,2436.01 544.50,2427.39 549.86,2418.66 555.21,2409.83 560.57,2400.91 565.93,2391.90 571.28,2382.82 576.64,2373.68 581.99,2364.47 587.35,2355.20 592.71,2345.89 598.06,2336.54 603.42,2327.16 608.77,2317.75 614.13,2308.31 619.49,2298.86 624.84,2289.41 630.20,2279.94 635.55,2270.48 640.91,2261.02 646.27,2251.57 651.62,2242.14 656.98,2232.73 662.34,2223.34 667.69,2213.98 673.05,2204.65 678.40,2195.36 683.76,2186.10 689.12,2176.90 694.47,2167.73 699.83,2158.62 705.18,2149.57 710.54,2140.57 715.90,2131.62 721.25,2122.75 726.61,2113.93 731.96,2105.19 737.32,2096.51 742.68,2087.91 748.03,2079.38 753.39,2070.92 758.74,2062.55 764.10,2054.25 769.46,2046.04 774.81,2037.91 780.17,2029.86 785.52,2021.90 790.88,2014.03 796.24,2006.25 801.59,1998.55 806.95,1990.95 812.31,1983.44 817.66,1976.02 823.02,1968.70 828.37,1961.47 833.73,1954.33 839.09,1947.29 844.44,1940.34 849.80,1933.49 855.15,1926.73 860.51,1920.08 865.87,1913.51 871.22,1907.05 876.58,1900.68 881.93,1894.41 887.29,1888.23 892.65,1882.15 898.00,1876.17 903.36,1870.28 908.71,1864.48 914.07,1858.79 919.43,1853.18 924.78,1847.67 930.14,1842.26 935.49,1836.94 940.85,1831.71 946.21,1826.57 951.56,1821.52 956.92,1816.57 962.27,1811.71 967.63,1806.93 972.99,1802.24 978.34,1797.64 983.70,1793.13 989.06,1788.71 994.41,1784.37 999.77,1780.11 1005.12,1775.94 1010.48,1771.85 1015.84,1767.84 1021.19,1763.92 1026.55,1760.07 1031.90,1756.30 1037.26,1752.61 1042.62,1749.00 1047.97,1745.46 1053.33,1742.00 1058.68,1738.61 1064.04,1735.29 1069.40,1732.05 1074.75,1728.88 1080.11,1725.78 1085.46,1722.74 1090.82,1719.77 1096.18,1716.87 1101.53,1714.04 1106.89,1711.27 1112.24,1708.56 1117.60,1705.92 1122.96,1703.34 1128.31,1700.82 1133.67,1698.35 1139.03,1695.95 1144.38,1693.60 1149.74,1691.31 1155.09,1689.08 1160.45,1686.90 1165.81,1684.77 1171.16,1682.69 1176.52,1680.67 1181.87,1678.70 1187.23,1676.77 1192.59,1674.89 1197.94,1673.07 1203.30,1671.28 1208.65,1669.55 1214.01,1667.86 1219.37,1666.21 1224.72,1664.60 1230.08,1663.04 1235.43,1661.52 1240.79,1660.03 1246.15,1658.59 1251.50,1657.19 1256.86,1655.82 1262.21,1654.49 1267.57,1653.20 1272.93,1651.94 1278.28,1650.71 1283.64,1649.52 1288.99,1648.36 1294.35,1647.24 1299.71,1646.14 1305.06,1645.08 1310.42,1644.05 1315.78,1643.04 1321.13,1642.07 1326.49,1641.12 1331.84,1640.20 1337.20,1639.30 1342.56,1638.43 1347.91,1637.59 1353.27,1636.77 1358.62,1635.97 1363.98,1635.20 1369.34,1634.45 1374.69,1633.73 1380.05,1633.02 1385.40,1632.34 1390.76,1631.67 1396.12,1631.03 1401.47,1630.40 1406.83,1629.80 1412.18,1629.21 1417.54,1628.64 1422.90,1628.09 1428.25,1627.56 1433.61,1627.04 1438.96,1626.54 1444.32,1626.05 1449.68,1625.58 1455.03,1625.12 1460.39,1624.68 1465.75,1624.25 1471.10,1623.84 1476.46,1623.44 1481.81,1623.05 1487.17,1622.67 1492.53,1622.31 1497.88,1621.96 1503.24,1621.62 1508.59,1621.29 1513.95,1620.97 1519.31,1620.66 1524.66,1620.36 1530.02,1620.07 1535.37,1619.79 1540.73,1619.52 1546.09,1619.26 1551.44,1619.01 1556.80,1618.77 1562.15,1618.53 1567.51,1618.30 1572.87,1618.08 1578.22,1617.87 1583.58,1617.67 1588.93,1617.47 1594.29,1617.28 1599.65,1617.09 1605.00,1616.92 1610.36,1616.74 1615.72,1616.58 1621.07,1616.42 1626.43,1616.26 1631.78,1616.11 1637.14,1615.97 1642.50,1615.83 1647.85,1615.70 1653.21,1615.57 1658.56,1615.44 1663.92,1615.32 1669.28,1615.20 1674.63,1615.09 1679.99,1614.99 1685.34,1614.88 1690.70,1614.78" fill="none" stroke="#0000ff" stroke-width="3.5" stroke-linejoin="round"/>
<rect x="892.0" y="2121.0" width="26" height="26" fill="#000"/>
<line x1="828.00" y1="2217.00" x2="982.00" y2="2217.00" stroke="#008000" stroke-width="3.5" />
<line x1="828.00" y1="2300.00" x2="982.00" y2="2300.00" stroke="#ff0000" stroke-width="3.5" />
<line x1="828.00" y1="2383.00" x2="982.00" y2="2383.00" stroke="#0000ff" stroke-width="3.5" />
<text transform="translate(997.65,2156.20) scale(0.9863,1)" font-family="&quot;Liberation Serif&quot;, serif" font-size="68.30" text-anchor="start" fill="#000" stroke="#fdfdfd" stroke-width="0.5">Experimental data at 60°C</text>
<text transform="translate(997.65,2238.60) scale(0.9855,1)" font-family="&quot;Liberation Serif&quot;, serif" font-size="68.30" text-anchor="start" fill="#000" stroke="#fdfdfd" stroke-width="0.5">Pseudo-first-order</text>
<text transform="translate(998.26,2321.70) scale(0.9815,1)" font-family="&quot;Liberation Serif&quot;, serif" font-size="68.30" text-anchor="start" fill="#000" stroke="#fdfdfd" stroke-width="0.5">Pseudo-second-order</text>
<text transform="translate(998.62,2405.00) scale(0.9982,1)" font-family="&quot;Liberation Serif&quot;, serif" font-size="68.30" text-anchor="start" fill="#000" stroke="#fdfdfd" stroke-width="0.5">Avrami</text>
</svg></body></html>
